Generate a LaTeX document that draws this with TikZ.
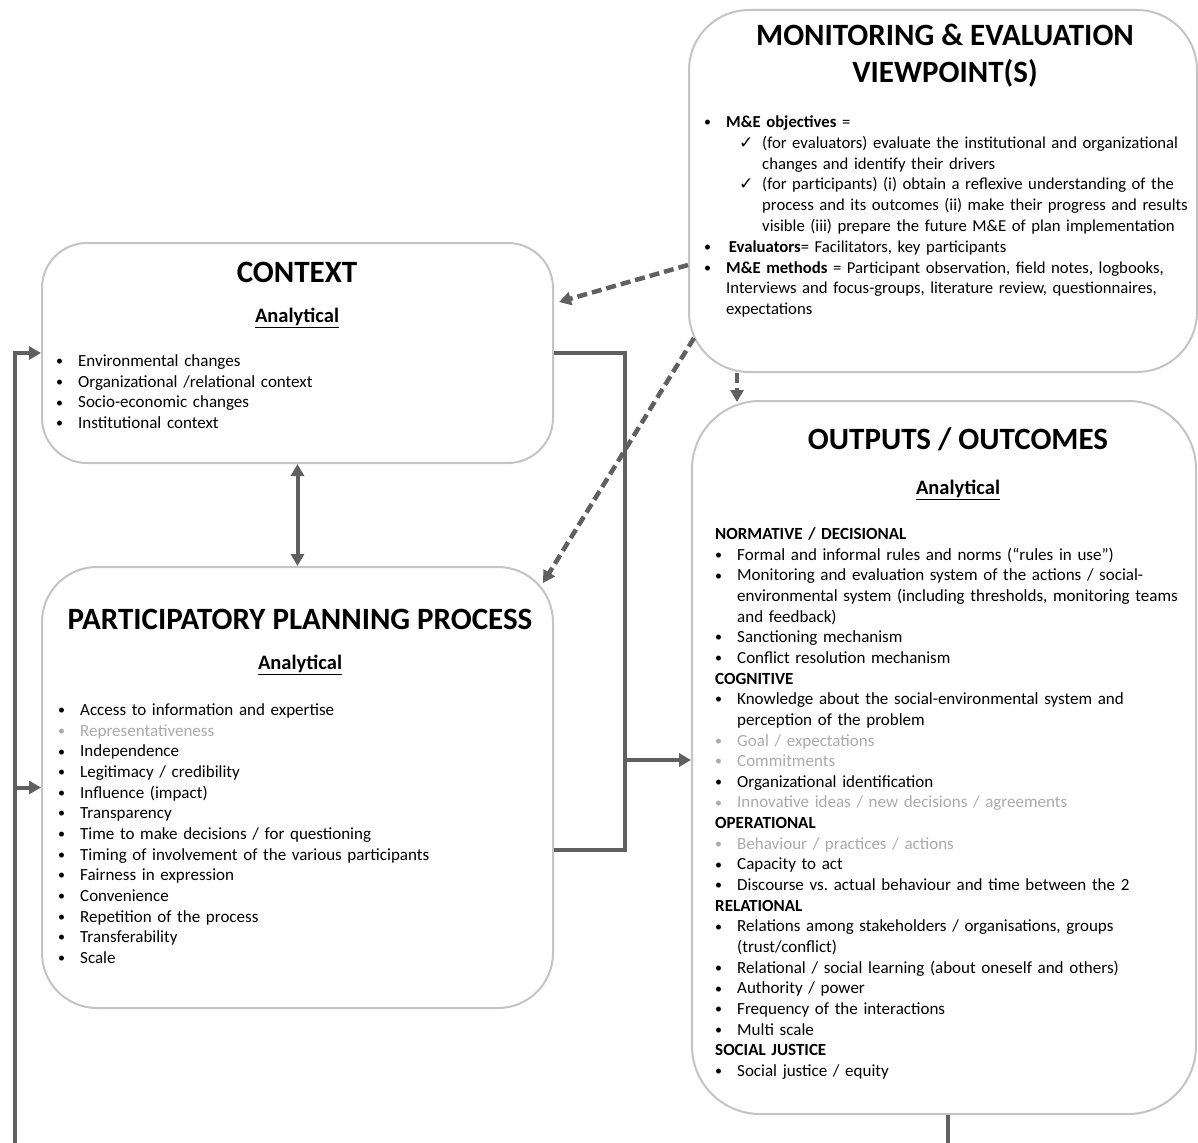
\documentclass[tikz,border=0pt]{standalone}
\usepackage{fontspec}
\setmainfont{Carlito}
\newfontfamily\symfont{DejaVu Sans}
\usetikzlibrary{arrows.meta}
\frenchspacing
\definecolor{boxgray}{HTML}{C4C4C4}
\definecolor{linegray}{HTML}{606060}
\definecolor{softgray}{HTML}{ABABAB}
\newcommand{\bodyfont}{\fontsize{17pt}{20.65pt}\selectfont}
\newcommand{\mefont}{\fontsize{16.7pt}{20.8pt}\selectfont}
\newcommand{\itm}[1]{\makebox[22pt][l]{\raisebox{0.8pt}{\fontsize{14pt}{14pt}\selectfont\textbullet}}#1}
\newcommand{\ind}{\hspace*{22pt}}
\newcommand{\chk}{\makebox[23pt][l]{\symfont\fontsize{17pt}{17pt}\selectfont ✓}}
\tikzset{
  box/.style={draw=boxgray, line width=2pt, fill=white, inner sep=0pt},
  titletext/.style={font=\bfseries\fontsize{31pt}{37pt}\selectfont, align=center, inner sep=0pt},
  anltext/.style={font=\bfseries\fontsize{20.5pt}{22pt}\selectfont, inner sep=0pt},
  lst/.style={anchor=base west, text width=520pt, align=left, inner sep=0pt, font=\bodyfont},
  conn/.style={draw=linegray, line width=4pt},
  tip/.style={-{Triangle[length=12pt,width=13pt]}},
  tips/.style={{Triangle[length=12pt,width=13pt]}-{Triangle[length=12pt,width=13pt]}},
  dconn/.style={draw=linegray, line width=4.5pt, dash pattern=on 10pt off 5pt},
}
\begin{document}
\begin{tikzpicture}[x=1pt, y={(0pt,-1pt)}]
\useasboundingbox (0,0) rectangle (1198,1142);
\fill[white] (0,0) rectangle (1198,1142);

% boxes
\node[box, minimum width=508pt, minimum height=362pt, rounded corners=60pt] (me) at (943,191) {};
\node[box, minimum width=511pt, minimum height=220pt, rounded corners=45pt] (ctx) at (297.5,353) {};
\node[box, minimum width=511pt, minimum height=441pt, rounded corners=55pt] (ppp) at (297.5,787.5) {};
\node[box, minimum width=504pt, minimum height=713pt, rounded corners=68pt] (out) at (944,757.5) {};

% M&E
\node[titletext] (meT) at (945,56) {MONITORING \& EVALUATION\\VIEWPOINT(S)};
\node[lst, font=\mefont] (meL) at (704,127.5) {%
\itm{\textbf{M\&E objectives} =}\\
\hspace*{35pt}\chk(for evaluators) evaluate the institutional and organizational\\
\hspace*{58pt}changes and identify their drivers\\
\hspace*{35pt}\chk(for participants) (i) obtain a reflexive understanding of the\\
\hspace*{58pt}process and its outcomes (ii) make their progress and results\\
\hspace*{58pt}visible (iii) prepare the future M\&E of plan implementation\\
\itm{\,\textbf{Evaluators}= Facilitators, key participants}\\
\itm{\textbf{M\&E methods} = Participant observation, field notes, logbooks,}\\
\ind Interviews and focus-groups, literature review, questionnaires,\\
\ind expectations};

% Context
\node[titletext] (ctxT) at (297,272) {CONTEXT};
\node[anltext] (ctxA) at (297,318) {\underline{Analytical}};
\node[lst] (ctxL) at (56,366.5) {%
\itm{Environmental changes}\\
\itm{Organizational /relational context}\\
\itm{Socio-economic changes}\\
\itm{Institutional context}};

% PPP
\node[titletext] (pppT) at (300,619) {PARTICIPATORY PLANNING PROCESS};
\node[anltext] (pppA) at (300,665) {\underline{Analytical}};
\node[lst] (pppL) at (58,715.5) {%
\itm{Access to information and expertise}\\
{\color{softgray}\itm{Representativeness}}\\
\itm{Independence}\\
\itm{Legitimacy / credibility}\\
\itm{Influence (impact)}\\
\itm{Transparency}\\
\itm{Time to make decisions / for questioning}\\
\itm{Timing of involvement of the various participants}\\
\itm{Fairness in expression}\\
\itm{Convenience}\\
\itm{Repetition of the process}\\
\itm{Transferability}\\
\itm{Scale}};

% Outputs
\node[titletext] (outT) at (958,439) {OUTPUTS / OUTCOMES};
\node[anltext] (outA) at (958,490) {\underline{Analytical}};
\node[lst] (outL) at (715,539.5) {%
\textbf{NORMATIVE / DECISIONAL}\\
\itm{Formal and informal rules and norms (“rules in use”)}\\
\itm{Monitoring and evaluation system of the actions / social-}\\
\ind environmental system (including thresholds, monitoring teams\\
\ind and feedback)\\
\itm{Sanctioning mechanism}\\
\itm{Conflict resolution mechanism}\\
\textbf{COGNITIVE}\\
\itm{Knowledge about the social-environmental system and}\\
\ind perception of the problem\\
{\color{softgray}\itm{Goal / expectations}}\\
{\color{softgray}\itm{Commitments}}\\
\itm{Organizational identification}\\
{\color{softgray}\itm{Innovative ideas / new decisions / agreements}}\\
\textbf{OPERATIONAL}\\
{\color{softgray}\itm{Behaviour / practices / actions}}\\
\itm{Capacity to act}\\
\itm{Discourse vs. actual behaviour and time between the 2}\\
\textbf{RELATIONAL}\\
\itm{Relations among stakeholders / organisations, groups}\\
\ind (trust/conflict)\\
\itm{Relational / social learning (about oneself and others)}\\
\itm{Authority / power}\\
\itm{Frequency of the interactions}\\
\itm{Multi scale}\\
\textbf{SOCIAL JUSTICE}\\
\itm{Social justice / equity}};

% connectors
\coordinate (fbA) at (948,1170);
\coordinate (fbB) at (15,1170);
\coordinate (j1) at (625,850);
\coordinate (j2) at (625,760);
\begin{scope}
\clip (0,0) rectangle (1198,1142);
\draw[conn] (out.south -| fbA) -- (fbA) -- (fbB);
\draw[conn, tip] (fbB) |- (ctx.west);
\draw[conn, tip] (fbB |- ppp.west) -- (ppp.west);
\end{scope}
\draw[conn] (ctx.east) -| (j1) -- (j1 -| ppp.east);
\draw[conn, tip] (j2) -- (j2 -| out.west);
\draw[conn, tips] (ctx.south) -- (ppp.north);

\coordinate (d1s) at (688,265);
\coordinate (d1e) at (559,302);
\coordinate (d2s) at (694,338);
\coordinate (d2e) at (543,583);
\coordinate (d3) at (737,0);
\draw[dconn, tip] (d1s) -- (d1e);
\draw[dconn, tip] (d2s) -- (d2e);
\draw[dconn, tip] (d3 |- me.south) -- ([yshift=-2pt]d3 |- out.north);
\end{tikzpicture}
\end{document}
